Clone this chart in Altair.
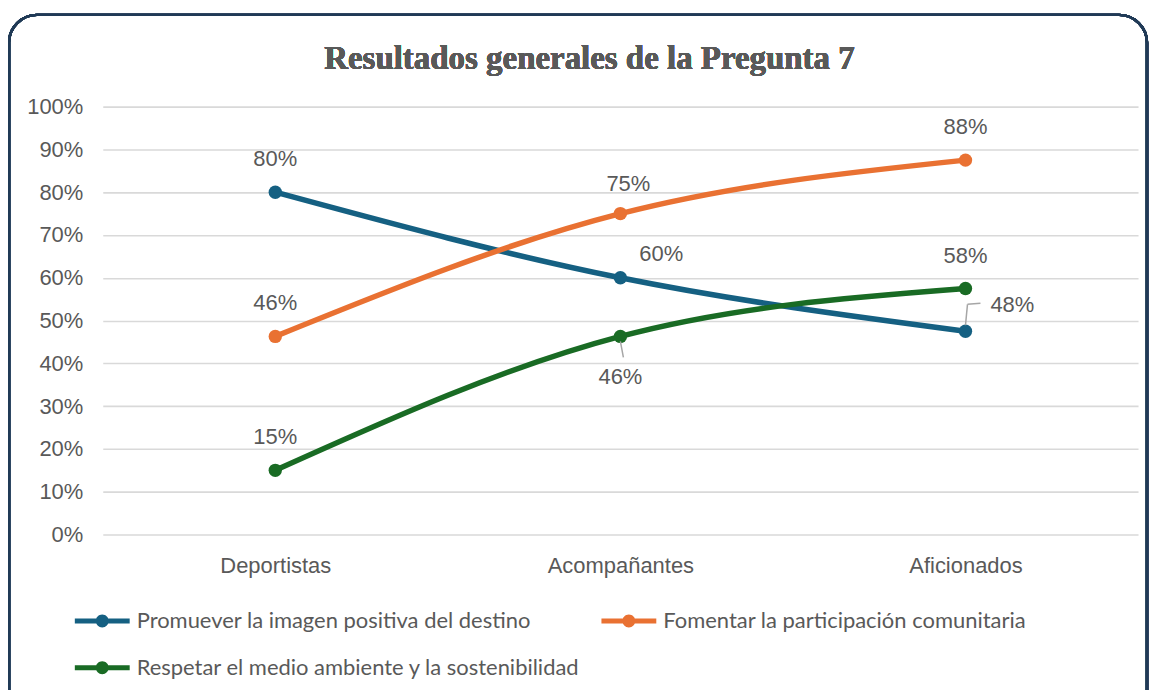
import altair as alt
import pandas as pd

categories = ["Deportistas", "Acompañantes", "Aficionados"]
series = [
    "Promuever la imagen positiva del destino",
    "Fomentar la participación comunitaria",
    "Respetar el medio ambiente y la sostenibilidad",
]
promuever = [0.80, 0.60, 0.475]
fomentar = [0.463, 0.75, 0.875]
respetar = [0.15, 0.463, 0.575]
labels_promuever = ["80%", "60%", "48%"]
labels_fomentar = ["46%", "75%", "88%"]
labels_respetar = ["15%", "46%", "58%"]
colors = ["#156082", "#E97132", "#196B24"]
y_ticks = [0, 0.1, 0.2, 0.3, 0.4, 0.5, 0.6, 0.7, 0.8, 0.9, 1.0]
title_text = "Resultados generales de la Pregunta 7"

rows = []
for s, vals, labs in zip(series, [promuever, fomentar, respetar],
                         [labels_promuever, labels_fomentar, labels_respetar]):
    for c, v, l in zip(categories, vals, labs):
        rows.append({"cat": c, "serie": s, "value": v, "label": l})
df = pd.DataFrame(rows)

GRAY = "#595959"
PLOT_W, PLOT_H = 1038, 429
FS = 22

sym_path = ("M-1,-0.09 L1,-0.09 L1,0.09 L-1,0.09 Z "
            "M0.236,0 A0.236,0.236 0 1,1 -0.236,0 A0.236,0.236 0 1,1 0.236,0 Z")

legend = alt.Legend(
    title=None, orient="none", legendX=-28, legendY=488, columns=2, direction="horizontal",
    symbolType=sym_path, symbolSize=3025, symbolStrokeWidth=0,
    labelFont="Lato", labelFontSize=22, labelColor=GRAY, labelLimit=0,
    columnPadding=21, rowPadding=8, labelOffset=7, symbolOffset=0,
)

x_enc = alt.X("cat:N", sort=categories,
              scale=alt.Scale(type="point", padding=0.5),
              axis=alt.Axis(title=None, labelAngle=0, domain=False, ticks=False,
                            grid=False, labelPadding=21, labelFontSize=FS,
                            labelFont="Liberation Sans", labelColor=GRAY))
y_enc = alt.Y("value:Q", scale=alt.Scale(domain=[0, 1], nice=False),
              axis=alt.Axis(title=None, format=".0%", values=y_ticks, domain=False,
                            ticks=False, labelPadding=20, labelFontSize=FS,
                            labelFont="Liberation Sans", labelColor=GRAY,
                            gridColor="#d9d9d9", gridWidth=1.6))
color_enc = alt.Color("serie:N", sort=series,
                      scale=alt.Scale(domain=series, range=colors), legend=legend)

base = alt.Chart(df).encode(x=x_enc, y=y_enc)

lines = base.mark_line(interpolate="monotone", strokeWidth=5.5, strokeCap="round").encode(color=color_enc)
points = base.mark_circle(size=180, opacity=1).encode(color=color_enc)

def sel(s, c):
    return f"datum.serie == '{s}' && datum.cat == '{c}'"

special = [sel(series[0], "Acompañantes"), sel(series[0], "Aficionados"),
           sel(series[2], "Acompañantes"), sel(series[1], "Acompañantes")]
not_special = " && ".join(f"!({e})" for e in special)

text_style = dict(font="Liberation Sans", fontSize=FS, color=GRAY, baseline="middle", align="center")
t_default = base.mark_text(dy=-33, **text_style).encode(text="label:N").transform_filter(not_special)
t_60 = base.mark_text(dx=41, dy=-24, **text_style).encode(text="label:N").transform_filter(special[0])
t_48 = base.mark_text(dx=47, dy=-26, **text_style).encode(text="label:N").transform_filter(special[1])
t_46 = base.mark_text(dy=41, **text_style).encode(text="label:N").transform_filter(special[2])
t_75 = base.mark_text(dx=8, dy=-30, **text_style).encode(text="label:N").transform_filter(special[3])

lead_46 = base.mark_rule(color="#a6a6a6", strokeWidth=1.5, yOffset=5, y2Offset=21, x2Offset=3).encode(
    x2="cat:N", y2="value:Q").transform_filter(special[2])
lead_48a = base.mark_rule(color="#a6a6a6", strokeWidth=1.5, yOffset=-6, y2Offset=-27, x2Offset=2).encode(
    x2="cat:N", y2="value:Q").transform_filter(special[1])
lead_48b = base.mark_rule(color="#a6a6a6", strokeWidth=1.5, xOffset=2, yOffset=-27, x2Offset=15, y2Offset=-28).encode(
    x2="cat:N", y2="value:Q").transform_filter(special[1])

frame = alt.Chart(df).mark_rect(fill="transparent", stroke="#203A56", strokeWidth=2.5,
                                cornerRadius=28).encode(
    x=alt.value(-94), x2=alt.value(1047), y=alt.value(-92), y2=alt.value(700))

title = alt.Chart(df).mark_text(font="Liberation Serif", fontSize=33, fontWeight="bold",
                                color=GRAY, align="center", baseline="alphabetic").encode(
    x=alt.value(488), y=alt.value(-38), text=alt.value(title_text))

chart = alt.layer(
    frame, title, lines, points, lead_46, lead_48a, lead_48b, t_default, t_60, t_48, t_46, t_75
).properties(
    width=PLOT_W, height=PLOT_H,
    autosize=alt.AutoSizeParams(type="none"),
    padding={"left": 95, "top": 98, "right": 13, "bottom": 155},
).configure_view(stroke=None)

chart.save("out.html", embed_options={"renderer": "svg", "actions": False})
